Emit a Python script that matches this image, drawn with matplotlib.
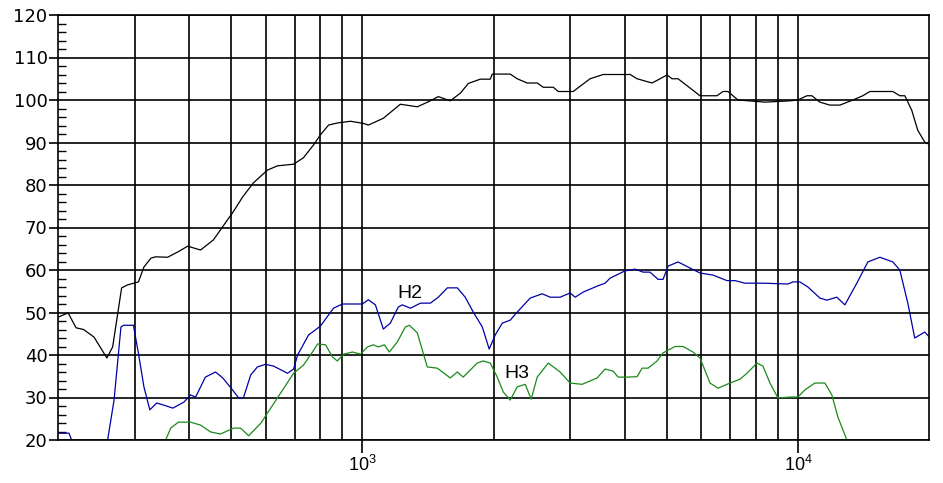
import numpy as np
import matplotlib
matplotlib.use("Agg")
import matplotlib.pyplot as plt
from matplotlib.ticker import FixedLocator, NullFormatter

plt.rcParams['font.family'] = ['Liberation Sans', 'DejaVu Sans']
plt.rcParams['mathtext.default'] = 'regular'

# main response (Hz, dB)
spl_f = [200, 211, 220, 229, 242, 259, 267, 280, 289, 306, 315, 327, 335, 357, 376,
         397, 425, 455, 490, 503, 531, 562, 605, 638, 695, 732, 772, 801, 836, 876,
         939, 1005, 1032, 1117, 1222, 1337, 1432, 1494, 1591, 1678, 1751, 1865, 1966,
         1987, 2185, 2267, 2390, 2520, 2601, 2743, 2816, 3047, 3333, 3571, 4119, 4273,
         4626, 4826, 5007, 5140, 5306, 5959, 6519, 6730, 6909, 7285, 8400, 9587, 10000,
         10487, 10767, 11232, 11841, 12486, 13371, 14096, 14630, 16516, 17139, 17599,
         18255, 18842, 19555, 20000]
spl_db = [48.9, 49.9, 46.4, 46.0, 44.2, 39.3, 41.9, 55.8, 56.5, 57.2, 60.7, 62.8, 63.1, 63.0, 64.2,
          65.6, 64.7, 67.1, 71.8, 73.4, 77.2, 80.5, 83.5, 84.5, 84.9, 86.4, 89.4, 91.8, 94.1, 94.6,
          95.0, 94.5, 94.1, 95.7, 99.0, 98.4, 99.8, 100.8, 99.8, 101.6, 103.9, 104.9, 104.9,
          106.1, 106.1, 105.0, 104.0, 104.0, 103.0, 103.0, 102.0, 102.0, 105.0, 106.0, 106.0, 105.0,
          104.0, 105.0, 105.9, 105.0, 105.0, 101.0, 101.0, 102.0, 102.0, 100.0, 99.5, 99.8, 100.0,
          101.0, 101.0, 99.5, 98.8, 98.8, 100.0, 101.0, 102.0, 102.0, 101.0, 101.0,
          97.6, 92.9, 90.1, 89.6]

# 2nd harmonic
h2_f = [200, 212, 215, 217, 255, 260, 269, 279, 283, 298, 306, 315, 325, 337, 350, 367,
        389, 403, 414, 436, 460, 478, 503, 520, 533, 554, 574, 599, 625, 673, 695, 710,
        752, 801, 858, 900, 1000, 1032, 1071, 1117, 1159, 1209, 1235, 1289, 1359, 1432,
        1494, 1567, 1652, 1722, 1797, 1885, 1955, 2018, 2095, 2185, 2267, 2429, 2587,
        2699, 2845, 2999, 3080, 3213, 3459, 3609, 3706, 4011, 4228, 4411, 4575, 4775,
        4902, 5033, 5306, 5593, 5959, 6383, 6874, 7171, 7557, 8312, 9486, 9739, 10106,
        10542, 11232, 11654, 12287, 12486, 12820, 13655, 14477, 15426, 16516, 17139,
        17881, 18546, 19555, 20000]
h2_db = [21.6, 21.6, 20.0, 12.0, 12.0, 20.0, 29.4, 46.6, 47.0, 47.0, 40.4, 32.5, 27.1, 28.7, 28.2, 27.5,
         28.9, 30.6, 30.1, 34.8, 36.0, 34.6, 31.8, 29.9, 29.9, 35.3, 37.2, 37.8, 37.4, 35.7, 36.7, 40.0,
         44.7, 46.8, 51.0, 52.0, 52.0, 53.0, 51.8, 46.1, 47.5, 51.3, 51.8, 51.0, 52.2, 52.2,
         53.6, 55.8, 55.8, 53.6, 50.1, 46.6, 41.4, 44.7, 47.5, 48.2, 50.1, 53.4, 54.4,
         53.6, 53.6, 54.6, 53.6, 54.8, 56.2, 56.9, 58.1, 59.8, 60.2, 59.5, 59.5, 57.8,
         57.8, 60.9, 61.9, 60.7, 59.3, 58.8, 57.5, 57.5, 56.9, 56.9, 56.7, 57.2, 57.2,
         56.0, 53.4, 52.9, 53.6, 52.9, 51.8, 56.9, 61.9, 63.0, 61.9, 60.0,
         52.2, 44.0, 45.4, 44.3]

# 3rd harmonic
h3_f = [345, 363, 378, 403, 425, 448, 472, 506, 525, 548, 584, 638, 695, 732, 768, 789,
        823, 854, 876, 905, 949, 990, 1027, 1060, 1088, 1123, 1153, 1203, 1255, 1282,
        1337, 1409, 1486, 1591, 1652, 1704, 1835, 1895, 1966, 2040, 2106, 2185, 2267,
        2365, 2441, 2520, 2671, 2845, 2999, 3196, 3459, 3609, 3765, 3866, 4053, 4273,
        4387, 4529, 4749, 4902, 5223, 5446, 5743, 5959, 6284, 6554, 6982, 7362, 7638,
        8054, 8312, 8627, 8999, 9587, 10000, 10378, 10940, 11533, 11968, 12355, 12956,
        13300]
h3_db = [17.5, 22.8, 24.2, 24.2, 23.5, 21.9, 21.4, 22.8, 22.8, 21.0, 23.9, 29.9, 35.7, 37.6, 40.7, 42.6,
         42.4, 39.5, 38.6, 40.2, 40.7, 40.2, 41.9, 42.4, 41.9, 42.4, 40.7, 43.1, 46.6, 47.0,
         45.2, 37.2, 36.9, 34.6, 36.0, 34.8, 38.1, 38.6, 38.1, 34.8, 31.3, 29.4, 32.5,
         33.1, 29.6, 34.8, 38.1, 36.0, 33.4, 33.1, 34.6, 36.7, 36.2, 34.8, 34.8, 34.9,
         36.9, 36.9, 38.6, 40.5, 42.0, 42.0, 40.7, 39.3, 33.4, 32.2, 33.4, 34.3, 35.7,
         38.1, 37.4, 33.4, 29.9, 30.1, 30.1, 31.8, 33.4, 33.4, 30.6, 25.4, 20.0,
         16.0]

fig = plt.figure(figsize=(9.43, 4.83), dpi=100)
ax = fig.add_axes([58 / 943, 43 / 483, 871 / 943, 425 / 483])

ax.plot(spl_f, spl_db, color='black', lw=0.9)
ax.plot(h2_f, h2_db, color='#0000a8', lw=0.9)
ax.plot(h3_f, h3_db, color='#1a8a1a', lw=0.9)

ax.set_xscale('log')
ax.set_xlim(200, 20000)
ax.set_ylim(20, 120)

# x: labelled ticks only at decades, grid at every 100/1000
ax.xaxis.set_major_locator(FixedLocator([1000, 10000]))
ax.set_xticklabels(['$10^3$', '$10^4$'], fontsize=13)
ax.xaxis.set_minor_locator(FixedLocator([300, 400, 500, 600, 700, 800, 900,
                                         2000, 3000, 4000, 5000, 6000, 7000, 8000, 9000]))
ax.xaxis.set_minor_formatter(NullFormatter())
ax.tick_params(axis='x', which='major', direction='out', length=9, width=1.2, pad=2, top=False)
ax.tick_params(axis='x', which='minor', length=0, top=False)

ax.set_yticks(np.arange(20, 121, 10))
ax.set_yticks(np.arange(20, 121, 2), minor=True)
ax.tick_params(axis='y', which='major', direction='out', length=6.5, width=1.2, pad=1,
               labelsize=13, right=False)
ax.tick_params(axis='y', which='minor', direction='in', length=6, width=1.0, right=False)
for lab in ax.get_yticklabels():
    lab.set_family('DejaVu Sans')

ax.grid(True, which='major', axis='y', color='black', lw=1.2)
ax.grid(True, which='both', axis='x', color='black', lw=1.2)
ax.set_axisbelow(True)
for s in ax.spines.values():
    s.set_linewidth(1.2)

ax.text(1282, 52.4, 'H2', fontsize=14, ha='center', va='bottom')
ax.text(2267, 33.6, 'H3', fontsize=14, ha='center', va='bottom')

fig.savefig('out.png', dpi=100)
